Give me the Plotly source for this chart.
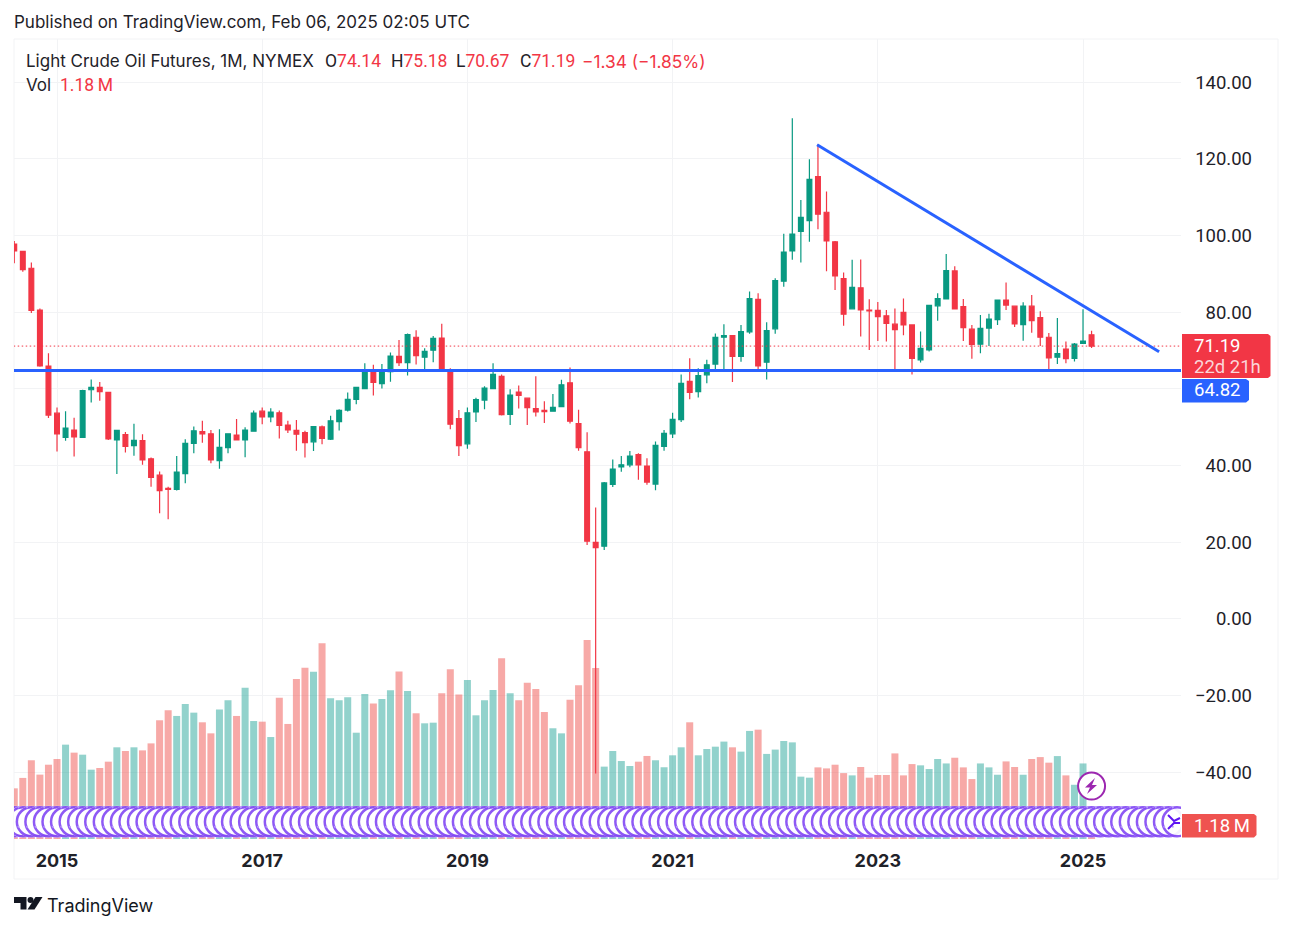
import plotly.graph_objects as go

# ==========================================
# Data (monthly bars, index 0 = Jan 2015)
# ==========================================

month_index = list(range(-5, 122))

opens = [
    97.8, 95.9, 91.5, 80.6, 66.0,
    53.7, 47.4, 49.3, 47.4, 59.8, 60.4, 59.1, 46.7, 48.1, 45.2, 46.5, 41.8,
    37.5, 34.1, 33.8, 37.9, 45.8, 48.9, 48.3, 41.3, 44.7, 48.0, 46.7, 49.0,
    54.2, 52.7, 53.8, 50.6, 49.2, 48.6, 46.2, 50.1, 46.9, 51.5, 54.5, 57.3,
    60.1, 64.8, 61.4, 64.5, 68.5, 66.9, 73.5, 68.3, 70.1, 73.3, 65.0, 52.3,
    45.7, 54.0, 57.1, 60.1, 63.3, 53.4, 59.2, 57.6, 54.9, 54.4, 54.2, 55.4,
    61.6, 51.0, 43.6, 20.0, 19.0, 35.1, 39.7, 40.2, 42.9, 39.9, 35.2, 45.0,
    48.3, 52.0, 62.0, 59.3, 63.7, 66.5, 73.5, 73.9, 68.5, 74.9, 83.4, 67.0,
    75.7, 88.1, 96.0, 101.1, 103.9, 115.4, 106.1, 98.4, 88.8, 80.9, 86.4, 80.6,
    80.5, 79.1, 76.9, 80.0, 76.7, 67.6, 70.2, 81.7, 83.5, 90.8, 81.5, 75.6,
    71.7, 75.9, 78.1, 83.2, 81.6, 76.8, 81.6, 78.6, 73.5, 68.3, 70.4, 68.0,
    71.9, 74.14,
]

highs = [
    98.6, 95.9, 93.0, 81.0, 69.3,
    55.2, 54.2, 52.5, 59.8, 62.5, 61.8, 59.2, 49.3, 48.8, 50.9, 48.2, 42.1,
    38.5, 34.5, 42.5, 46.9, 50.2, 51.7, 49.3, 49.5, 48.3, 52.2, 50.0, 54.4,
    55.2, 55.0, 54.4, 51.7, 51.9, 49.1, 50.2, 50.5, 53.0, 54.7, 59.1, 60.5,
    66.7, 66.3, 66.5, 69.5, 72.8, 74.5, 75.3, 70.6, 73.8, 77.0, 65.4, 54.5,
    55.2, 57.7, 60.7, 66.7, 63.8, 59.9, 60.9, 57.8, 63.3, 56.8, 58.7, 62.4,
    65.6, 54.6, 48.7, 29.1, 35.7, 41.6, 42.5, 43.8, 43.2, 41.9, 46.3, 49.3,
    53.8, 63.8, 68.0, 65.4, 67.6, 74.5, 76.9, 73.9, 76.7, 85.4, 85.0, 77.4,
    88.9, 100.5, 130.6, 109.3, 119.9, 123.8, 111.5, 98.6, 90.4, 93.7, 93.8, 83.4,
    82.7, 80.6, 81.0, 83.6, 76.9, 75.0, 82.0, 85.0, 95.2, 92.0, 83.5, 76.7,
    79.3, 79.6, 83.2, 87.8, 81.7, 82.6, 84.5, 80.3, 74.6, 78.5, 72.4, 72.0,
    80.8, 75.18,
]

lows = [
    92.8, 90.6, 79.8, 65.8, 52.4,
    43.7, 46.5, 42.4, 47.2, 56.5, 56.9, 46.7, 37.8, 43.4, 42.6, 40.2, 34.5,
    27.6, 26.0, 33.5, 35.4, 43.2, 46.0, 40.6, 39.2, 43.2, 46.7, 42.2, 49.0,
    50.8, 51.3, 47.1, 48.5, 43.9, 42.1, 43.8, 45.6, 46.7, 49.2, 54.1, 56.0,
    60.1, 58.3, 60.1, 61.9, 66.0, 63.5, 66.4, 64.6, 67.0, 64.8, 49.5, 42.5,
    44.4, 51.4, 54.7, 60.1, 53.1, 50.6, 54.9, 50.6, 52.8, 51.1, 54.2, 55.4,
    51.0, 43.9, 19.3, -40.3, 18.0, 34.4, 38.4, 39.6, 36.3, 35.0, 33.6, 43.9,
    47.2, 51.4, 57.3, 57.8, 61.5, 65.0, 65.1, 61.8, 67.1, 74.4, 64.5, 62.5,
    74.4, 86.7, 93.7, 93.0, 98.4, 101.7, 90.7, 85.8, 76.5, 80.9, 73.7, 70.2,
    72.5, 72.4, 64.5, 74.0, 63.8, 66.9, 69.8, 77.8, 83.5, 80.9, 72.5, 67.9,
    69.3, 71.2, 76.7, 80.6, 76.2, 72.6, 74.7, 71.2, 65.2, 66.5, 66.7, 67.2,
    71.9, 70.67,
]

closes = [
    96.0, 91.1, 80.5, 66.0, 53.2,
    48.3, 49.8, 47.5, 59.6, 60.4, 59.3, 47.0, 49.2, 45.0, 46.6, 41.5, 36.9,
    33.5, 33.8, 38.3, 45.8, 49.1, 48.3, 41.5, 44.8, 48.3, 46.7, 49.3, 53.7,
    52.7, 54.0, 50.5, 49.3, 48.2, 46.0, 50.2, 47.1, 51.7, 54.4, 57.3, 60.4,
    65.0, 61.7, 65.0, 68.6, 66.9, 74.2, 68.7, 69.8, 73.2, 65.1, 50.8, 45.2,
    53.8, 57.2, 60.2, 63.8, 53.3, 58.4, 58.3, 55.1, 54.0, 54.1, 55.2, 61.1,
    51.6, 44.7, 20.3, 18.6, 35.5, 39.1, 40.2, 42.5, 40.2, 35.7, 45.3, 48.4,
    52.1, 61.5, 59.1, 63.5, 66.3, 73.5, 73.9, 68.5, 75.0, 83.6, 66.0, 75.2,
    88.3, 95.7, 100.4, 104.8, 114.7, 105.6, 98.6, 89.5, 79.5, 86.5, 80.6, 80.4,
    78.9, 77.1, 75.5, 76.7, 68.0, 70.6, 81.8, 83.6, 90.9, 80.9, 76.0, 71.6,
    75.8, 78.2, 83.2, 81.9, 77.0, 81.6, 77.8, 73.5, 68.1, 69.2, 67.9, 71.7,
    72.5, 71.19,
]

# volume in millions
volumes = [
    3.99, 4.81, 6.20, 5.07, 5.85,
    6.30, 7.43, 6.80, 6.64, 5.46, 5.59, 6.09, 7.22, 6.93, 7.22, 6.98, 7.53,
    9.35, 10.13, 9.69, 10.63, 9.95, 9.19, 8.32, 10.19, 10.92, 9.69, 11.92, 9.29,
    9.24, 8.03, 11.13, 9.06, 12.60, 13.49, 13.18, 15.41, 11.08, 10.92, 11.16, 8.37,
    11.42, 10.68, 11.03, 11.71, 13.20, 11.66, 9.90, 9.11, 9.16, 11.47, 13.36, 11.37,
    12.52, 9.74, 10.92, 11.74, 14.23, 11.47, 10.92, 12.31, 11.81, 10.00, 8.72, 8.32,
    10.97, 12.10, 15.67, 13.47, 5.70, 6.93, 6.14, 5.75, 6.09, 6.54, 6.20, 5.65,
    6.59, 7.22, 9.19, 6.59, 7.09, 7.27, 7.67, 7.22, 6.88, 8.51, 8.61, 6.70,
    7.04, 7.72, 7.61, 4.91, 4.83, 5.64, 5.56, 5.85, 5.19, 5.01, 5.67, 4.83,
    5.04, 5.04, 6.74, 5.01, 5.90, 5.80, 5.51, 6.30, 5.95, 6.40, 5.64, 4.72,
    5.95, 5.64, 5.06, 6.11, 5.67, 5.06, 6.30, 6.45, 6.01, 6.53, 5.01, 4.27,
    5.95, 1.18,
]

price_ticks = [140, 120, 100, 80, 60, 40, 20, 0, -20, -40]
price_labels = ["140.00", "120.00", "100.00", "80.00", "", "40.00", "20.00", "0.00", "\u221220.00", "\u221240.00"]
year_ticks = [0, 24, 48, 72, 96, 120]
year_labels = ["2015", "2017", "2019", "2021", "2023", "2025"]

trend_x = [88.9, 128.9]
trend_y = [123.7, 69.7]
support_level = 64.82
last_close = 71.19
span_x = [-6, 132]

# indicator badges sit on every bar along the bottom strip
strip_x = list(range(-7, 132))
strip_level = -52.9
strip_dot_x = [i - 0.5 for i in strip_x]
strip_dot_high = -49.2
strip_dot_low = -54.2
dividend_x = [121]
dividend_y = [-43.6]

# ==========================================
# Page geometry (browser body margin is 8px)
# ==========================================

W = 1276
H = 913
RED = "#F23645"
GREEN = "#089981"
BLUE = "#2962FF"
PURPLE = "#5F14F2"
INK = "#1F2229"
GRID = "#F2F3F5"
FONT = "Roboto"
TEXT_FONT = "Inter"


def px(x):
    return (x - 8) / W


def py(y):
    return 1 - (y - 8) / H


def path_of(points):
    return "M" + " L".join(f"{px(a):.5f},{py(b):.5f}" for a, b in points) + " Z"


x_domain = [px(14), px(1181)]
y_domain = [py(839), py(39)]

fig = go.Figure()

# ==========================================
# Volume
# ==========================================

volume_colors = [
    "rgba(38,166,154,0.5)" if c >= o else "rgba(239,83,80,0.5)"
    for o, c in zip(opens, closes)
]

fig.add_trace(
    go.Bar(
        x=month_index,
        y=volumes,
        marker=dict(color=volume_colors, line=dict(width=0)),
        yaxis="y",
        showlegend=False,
    )
)

# ==========================================
# Candles
# ==========================================

fig.add_trace(
    go.Candlestick(
        x=month_index,
        open=opens,
        high=highs,
        low=lows,
        close=closes,
        yaxis="y2",
        whiskerwidth=0,
        increasing=dict(line=dict(color=GREEN, width=1.2), fillcolor=GREEN),
        decreasing=dict(line=dict(color=RED, width=1.2), fillcolor=RED),
        showlegend=False,
    )
)

# ==========================================
# Levels and trend line
# ==========================================

fig.add_trace(
    go.Scatter(
        x=span_x,
        y=[last_close, last_close],
        mode="lines",
        line=dict(color=RED, width=1, dash="1.5px,2.5px"),
        yaxis="y2",
        showlegend=False,
    )
)

fig.add_trace(
    go.Scatter(
        x=span_x,
        y=[support_level, support_level],
        mode="lines",
        line=dict(color=BLUE, width=3),
        yaxis="y2",
        showlegend=False,
    )
)

fig.add_trace(
    go.Scatter(
        x=trend_x,
        y=trend_y,
        mode="lines",
        line=dict(color=BLUE, width=3),
        yaxis="y2",
        showlegend=False,
    )
)

# ==========================================
# Badges
# ==========================================

# each badge is a white halo, then the outlined circle, drawn left to right
badge_x = [i for i in strip_x for _ in range(2)]

fig.add_trace(
    go.Scatter(
        x=badge_x,
        y=[strip_level] * len(badge_x),
        mode="markers",
        marker=dict(
            symbol="circle",
            size=[32, 29] * len(strip_x),
            color="white",
            line=dict(
                color=["white", PURPLE] * len(strip_x),
                width=[0, 2.5] * len(strip_x),
            ),
        ),
        yaxis="y2",
        showlegend=False,
    )
)

fig.add_trace(
    go.Scatter(
        x=strip_dot_x + strip_dot_x,
        y=[strip_dot_high] * len(strip_dot_x) + [strip_dot_low] * len(strip_dot_x),
        mode="markers",
        marker=dict(symbol="circle", size=2, color="#B79BFA"),
        yaxis="y2",
        showlegend=False,
    )
)

fig.add_trace(
    go.Scatter(
        x=dividend_x,
        y=dividend_y,
        mode="markers",
        marker=dict(
            symbol="circle",
            size=27,
            color="white",
            line=dict(color="#9C27B0", width=2),
        ),
        yaxis="y2",
        showlegend=False,
    )
)

# ==========================================
# Layout
# ==========================================

fig.update_layout(
    width=W,
    height=H,
    margin=dict(l=0, r=0, t=0, b=0),
    paper_bgcolor="white",
    plot_bgcolor="white",
    bargap=0.18,
    boxgap=0.2,
    font=dict(family=FONT, color=INK),
    xaxis=dict(
        domain=x_domain,
        range=[-5.03, 131.46],
        tickmode="array",
        tickvals=year_ticks,
        ticktext=year_labels,
        tickfont=dict(family=TEXT_FONT, size=18, color=INK, weight=700),
        ticks="outside",
        ticklen=5,
        tickcolor="rgba(0,0,0,0)",
        showgrid=True,
        gridcolor=GRID,
        gridwidth=1,
        zeroline=False,
        showline=False,
        rangeslider=dict(visible=False),
    ),
    yaxis=dict(
        domain=y_domain,
        range=[0, 63],
        visible=False,
        fixedrange=True,
    ),
    yaxis2=dict(
        overlaying="y",
        anchor="free",
        side="left",
        position=px(1252),
        range=[-57.4, 151.3],
        tickmode="array",
        tickvals=price_ticks,
        ticktext=price_labels,
        tickfont=dict(family=FONT, size=18.5, color=INK),
        ticks="",
        showgrid=True,
        gridcolor=GRID,
        gridwidth=1,
        zeroline=False,
        showline=False,
    ),
)

# ==========================================
# Frame, price tags and icons
# ==========================================

shapes = [
    dict(type="rect", xref="paper", yref="paper",
         x0=px(14), x1=px(1278), y0=py(879), y1=py(39),
         line=dict(color=GRID, width=1), layer="below"),
    dict(type="path", xref="paper", yref="paper",
         path=path_of([(1182, 334), (1268, 334), (1270.5, 336), (1270.5, 376), (1268, 378), (1182, 378)]),
         fillcolor=RED, line=dict(width=0)),
    dict(type="path", xref="paper", yref="paper",
         path=path_of([(1182, 379), (1246, 379), (1249, 381), (1249, 400), (1246, 402.5), (1182, 402.5)]),
         fillcolor=BLUE, line=dict(width=0)),
    dict(type="path", xref="paper", yref="paper",
         path=path_of([(1182, 814), (1254, 814), (1256.5, 816), (1256.5, 835), (1254, 837.5), (1182, 837.5)]),
         fillcolor="#EF5350", line=dict(width=0)),
    # lightning bolt
    dict(type="path", xref="paper", yref="paper",
         path=path_of([(1095, 778), (1085, 787.5), (1090, 787.5), (1087, 794), (1097, 785), (1092, 785)]),
         fillcolor="#9C27B0", line=dict(width=0)),
    # end badge chevrons
    dict(type="path", xref="paper", yref="paper",
         path=f"M{px(1168)},{py(815)} L{px(1174)},{py(821)} L{px(1180)},{py(818)}",
         line=dict(color=PURPLE, width=2)),
    dict(type="path", xref="paper", yref="paper",
         path=f"M{px(1168)},{py(829)} L{px(1174)},{py(823)} L{px(1180)},{py(823)}",
         line=dict(color=PURPLE, width=2)),
    # TradingView logo
    dict(type="path", xref="paper", yref="paper",
         path=path_of([(14, 897), (26.5, 897), (26.5, 909.5), (20.5, 909.5), (20.5, 903), (14, 903)]),
         fillcolor="#131722", line=dict(width=0)),
    dict(type="circle", xref="paper", yref="paper",
         x0=px(27.5), x1=px(33.5), y0=py(903), y1=py(897),
         fillcolor="#131722", line=dict(width=0)),
    dict(type="path", xref="paper", yref="paper",
         path=path_of([(35.5, 897), (42.5, 897), (34.5, 909.5), (27.5, 909.5)]),
         fillcolor="#131722", line=dict(width=0)),
]
fig.update_layout(shapes=shapes)


def label(x, y, text, size=17.5, color=INK, family=FONT, weight=400):
    fig.add_annotation(
        x=px(x - 1),
        y=py(y),
        xref="paper",
        yref="paper",
        text=text,
        showarrow=False,
        xanchor="left",
        yanchor="middle",
        align="left",
        borderpad=0,
        font=dict(family=family, size=size, color=color, weight=weight),
    )


def red(text):
    return f'<span style="color:{RED}">{text}</span>'


label(14, 22, "Published on TradingView.com, Feb 06, 2025 02:05 UTC", size=17, family=TEXT_FONT)
label(26, 61, "Light Crude Oil Futures, 1M, NYMEX", size=17, family=TEXT_FONT)
label(325, 61, "O" + red("74.14"))
label(391, 61, "H" + red("75.18"))
label(456, 61, "L" + red("70.67"))
label(520, 61, "C" + red("71.19"))
label(582, 61, red("\u22121.34 (\u22121.85%)"), size=17.3, family=TEXT_FONT)
label(26, 85, "Vol", size=17, family=TEXT_FONT)
label(60, 85, red("1.18\u2009M"))

label(1194, 346, "71.19", size=18.5, color="white")
label(1194, 367, "22d 21h", size=18.5, color="#FBD5D8")
label(1194, 390.5, "64.82", size=18.5, color="white")
label(1194, 825.5, "1.18\u2009M", size=18.5, color="white")
label(47, 905, "TradingView", size=18, color="#131722", family=TEXT_FONT, weight=400)

fig.write_html("out.html")
